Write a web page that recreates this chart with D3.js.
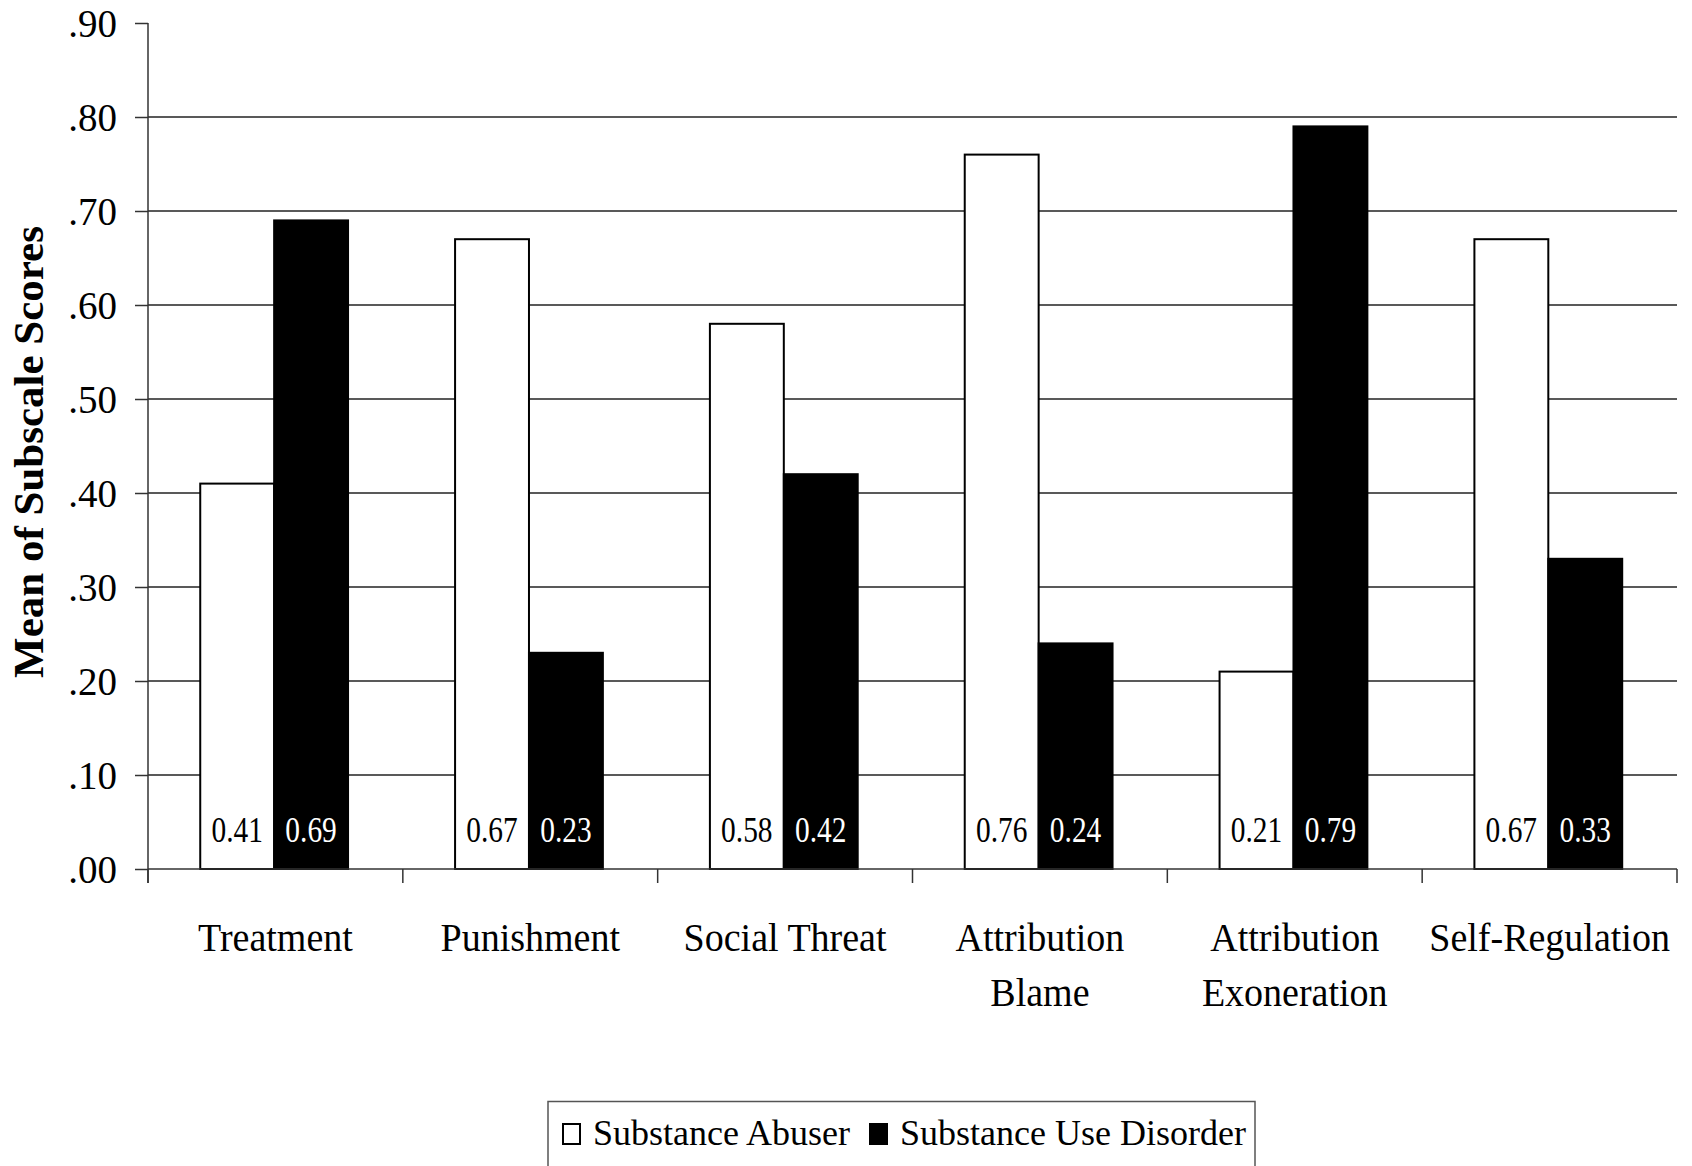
<!DOCTYPE html>
<html>
<head>
<meta charset="utf-8">
<script src="https://cdn.jsdelivr.net/npm/d3@7"></script>
<style>
  html, body { margin: 0; padding: 0; background: #fff; }
  svg { display: block; }
</style>
</head>
<body>
<svg id="chart" width="1692" height="1166"></svg>
<script>
// Subscale means by label condition
const categories = ["Treatment", "Punishment", "Social Threat", "Attribution Blame", "Attribution Exoneration", "Self-Regulation"];
const categoryLines = [["Treatment"], ["Punishment"], ["Social Threat"], ["Attribution", "Blame"], ["Attribution", "Exoneration"], ["Self-Regulation"]];
const seriesNames = ["Substance Abuser", "Substance Use Disorder"];
const abuserValues = [0.41, 0.67, 0.58, 0.76, 0.21, 0.67];
const disorderValues = [0.69, 0.23, 0.42, 0.24, 0.79, 0.33];
const yTickValues = [0, 0.1, 0.2, 0.3, 0.4, 0.5, 0.6, 0.7, 0.8, 0.9];
const yTitle = "Mean of Subscale Scores";

const SERIF = "'Liberation Serif', 'Times New Roman', Times, serif";

const svg = d3.select("#chart");
const plot = { left: 148, right: 1677, top: 23, bottom: 869 };

const x = d3.scaleBand().domain(categories).range([plot.left, plot.right]).padding(0);
const xInner = d3.scaleBand().domain(seriesNames)
  .range([x.bandwidth() * 0.205, x.bandwidth() * 0.785]).padding(0);
const y = d3.scaleLinear().domain([0, 0.9]).range([plot.bottom, plot.top]);

const fills = { "Substance Abuser": "#fff", "Substance Use Disorder": "#000" };
const labelColors = { "Substance Abuser": "#000", "Substance Use Disorder": "#fff" };

const rows = categories.map((c, i) => ({
  category: c,
  values: [
    { series: seriesNames[0], value: abuserValues[i] },
    { series: seriesNames[1], value: disorderValues[i] }
  ]
}));

const tickFmt = v => d3.format(".2f")(v).replace(/^0/, "");

// Condense a text element horizontally by factor k
function condense(sel, k) {
  sel.each(function () {
    const w = this.getComputedTextLength();
    d3.select(this).attr("textLength", w * k).attr("lengthAdjust", "spacingAndGlyphs");
  });
}

// Horizontal gridlines (none at the top value)
svg.append("g")
  .selectAll("line")
  .data(yTickValues.filter(v => v > 0 && v < 0.9))
  .join("line")
  .attr("x1", plot.left).attr("x2", plot.right)
  .attr("y1", d => y(d)).attr("y2", d => y(d))
  .attr("stroke", "#222").attr("stroke-width", 1.5);

// Y axis
const yAxis = svg.append("g")
  .attr("transform", `translate(${plot.left},0)`)
  .call(d3.axisLeft(y).tickValues(yTickValues).tickFormat(tickFmt).tickSize(13).tickPadding(18));
yAxis.select(".domain").remove();
yAxis.selectAll(".tick line").attr("stroke", "#333").attr("stroke-width", 1.5);
yAxis.selectAll(".tick text")
  .attr("font-size", 39).attr("fill", "#000").attr("dy", "0.34em");
svg.append("line")
  .attr("x1", plot.left).attr("x2", plot.left)
  .attr("y1", plot.top).attr("y2", plot.bottom + 14)
  .attr("stroke", "#333").attr("stroke-width", 1.5);

// Bars
const groups = svg.append("g").selectAll("g")
  .data(rows)
  .join("g")
  .attr("transform", d => `translate(${x(d.category)},0)`);

groups.selectAll("rect")
  .data(d => d.values)
  .join("rect")
  .attr("x", d => xInner(d.series))
  .attr("width", xInner.bandwidth())
  .attr("y", d => y(d.value))
  .attr("height", d => y(0) - y(d.value))
  .attr("fill", d => fills[d.series])
  .attr("stroke", "#000").attr("stroke-width", 2);

// Value labels near the base of each bar
const valueLabels = groups.selectAll("text.val")
  .data(d => d.values)
  .join("text")
  .attr("class", "val")
  .attr("x", d => xInner(d.series) + xInner.bandwidth() / 2)
  .attr("y", plot.bottom - 27)
  .attr("text-anchor", "middle")
  .attr("font-size", 35)
  .style("fill", d => labelColors[d.series])
  .text(d => d.value.toFixed(2));

// X axis baseline and category ticks
const xAxis = svg.append("g")
  .attr("transform", `translate(0,${plot.bottom})`);
xAxis.append("line")
  .attr("x1", plot.left).attr("x2", plot.right)
  .attr("stroke", "#333").attr("stroke-width", 1.5);
xAxis.selectAll("line.tick")
  .data(categories.map(c => x(c) + x.bandwidth()).concat([plot.left]))
  .join("line")
  .attr("class", "tick")
  .attr("x1", d => d).attr("x2", d => d)
  .attr("y1", 0).attr("y2", 14)
  .attr("stroke", "#333").attr("stroke-width", 1.5);

// Category labels, one text element per line
const catLabels = svg.append("g").selectAll("g")
  .data(categories)
  .join("g")
  .selectAll("text")
  .data((d, i) => categoryLines[i].map((t, j) => ({ cat: d, text: t, line: j })))
  .join("text")
  .attr("class", "cat")
  .attr("x", d => x(d.cat) + x.bandwidth() / 2)
  .attr("y", d => 951 + d.line * 55)
  .attr("text-anchor", "middle")
  .attr("font-size", 40)
  .text(d => d.text);

// Y axis title
svg.append("text")
  .attr("transform", "translate(43,452) rotate(-90)")
  .attr("text-anchor", "middle")
  .attr("font-size", 43)
  .attr("font-weight", "bold")
  .text(yTitle);

// Legend
const legend = svg.append("g");
legend.append("path")
  .attr("d", "M548,1170 V1101.5 H1255 V1170")
  .attr("fill", "none").attr("stroke", "#555").attr("stroke-width", 1.5);
const legendItems = [
  { name: seriesNames[0], sx: 562, tx: 593 },
  { name: seriesNames[1], sx: 869, tx: 900 }
];
legend.selectAll("rect")
  .data(legendItems)
  .join("rect")
  .attr("x", d => d.sx + 1).attr("y", 1124)
  .attr("width", 17).attr("height", 20)
  .attr("fill", d => fills[d.name])
  .attr("stroke", "#000").attr("stroke-width", 2);
legend.selectAll("text")
  .data(legendItems)
  .join("text")
  .attr("x", d => d.tx).attr("y", 1145)
  .attr("font-size", 36)
  .text(d => d.name);

// Serif face throughout (inline style overrides the axis defaults)
svg.selectAll("text").style("font-family", SERIF);
svg.selectAll("text:not(.val)").style("fill", "#000");

condense(valueLabels, 0.84);
condense(catLabels, 0.95);
</script>
</body>
</html>
